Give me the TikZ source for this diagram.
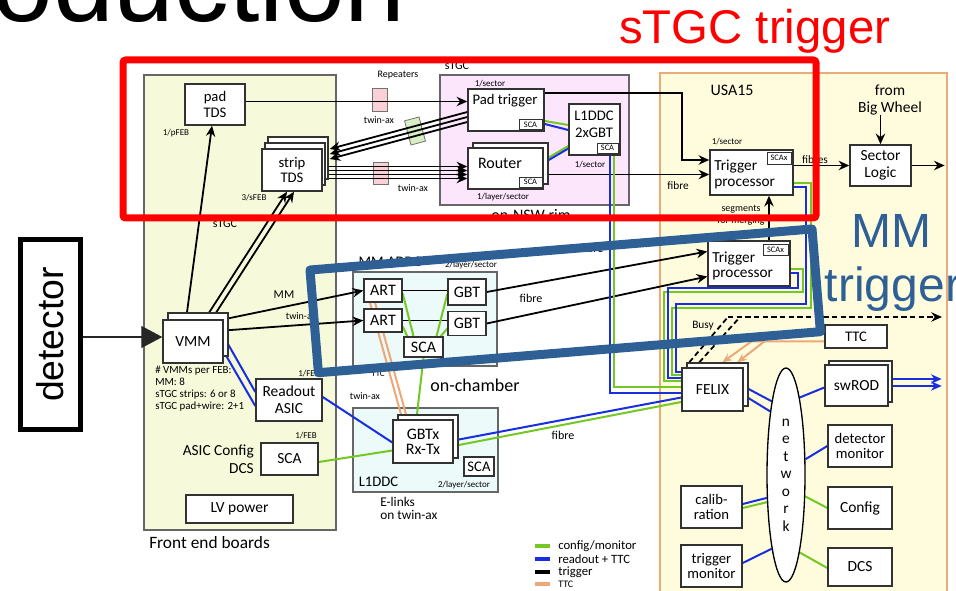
\documentclass[tikz,border=0pt]{standalone}
\usepackage{fontspec}
\setmainfont{Carlito}
\newfontfamily\arialf{Liberation Sans}
\usetikzlibrary{arrows.meta,shapes.geometric,shadows,calc}
\pgfdeclarelayer{back}
\pgfdeclarelayer{mid}
\pgfdeclarelayer{front}
\pgfsetlayers{back,mid,main,front}
\definecolor{cgreen}{RGB}{115,200,35}
\definecolor{cblue}{RGB}{25,45,225}
\definecolor{corange}{RGB}{236,168,120}
\definecolor{febfill}{RGB}{246,250,218}
\definecolor{usafill}{RGB}{255,252,222}
\definecolor{usaedge}{RGB}{236,170,120}
\definecolor{rimfill}{RGB}{252,230,252}
\definecolor{cyanfill}{RGB}{236,250,250}
\definecolor{reppink}{RGB}{248,208,214}
\definecolor{repgreen}{RGB}{214,238,196}
\definecolor{mmblue}{RGB}{46,96,150}
\definecolor{edge}{RGB}{50,50,50}
\begin{document}
\begin{tikzpicture}[x=0.75pt,y=-0.75pt,
  sz/.style 2 args={minimum width=#1*0.75pt,minimum height=#2*0.75pt},
  bgbox/.style={draw=black!60,line width=0.8pt,inner sep=0pt},
  box/.style={draw=edge,fill=white,line width=1.05pt,inner sep=0pt,align=center},
  shd/.style 2 args={copy shadow={shadow xshift=#1,shadow yshift=#2,draw=edge,line width=1.05pt,fill=white}},
  sca/.style={draw=edge,fill=white,line width=0.6pt,inner sep=0pt,font=\fontsize{6.3}{7}\selectfont},
  rep/.style={draw=black!55,line width=0.6pt,inner sep=0pt},
  lab/.style={inner sep=0pt,align=center},
  fa/.style={font=\fontsize{6.75}{8}\selectfont},
  fb/.style={font=\fontsize{7.5}{9}\selectfont},
  fc/.style={font=\fontsize{8.5}{10}\selectfont},
  fd/.style={font=\fontsize{9}{10.5}\selectfont},
  fe/.style={font=\fontsize{11}{11.8}\selectfont},
  ff/.style={font=\fontsize{11.6}{12.5}\selectfont},
  fg/.style={font=\fontsize{12}{13}\selectfont},
  trig/.style={draw=black,line width=1.35pt,-{Stealth[length=8pt,width=7pt]}},
  tl/.style={draw=black,line width=1.35pt},
  gl/.style={draw=cgreen,line width=1.5pt},
  bl/.style={draw=cblue,line width=1.5pt},
  ol/.style={draw=corange,line width=1.5pt},
]
\useasboundingbox (0,0) rectangle (956,591);

% ---------- backgrounds ----------
\begin{pgfonlayer}{back}
\node[bgbox,fill=febfill,sz={192}{455}] (feb) at (240,302.5) {};
\node[bgbox,fill=rimfill,sz={189}{130}] (rim) at (534.5,140) {};
\node[bgbox,fill=usafill,draw=usaedge,line width=1.1pt,sz={287}{524}] (usa) at (803.5,335) {};
\node[bgbox,fill=cyanfill,sz={144}{94}] (addc) at (425,319) {};
\node[bgbox,fill=cyanfill,sz={145}{84}] (l1b) at (425.5,450) {};
\node[rep,fill=reppink,sz={15}{23}] (rep1) at (379.5,100) {};
\node[rep,fill=reppink,sz={15}{22}] (rep2) at (380.5,173) {};
\node[rep,fill=repgreen,sz={15}{25},rotate=15] (rep3) at (415,131) {};
\end{pgfonlayer}

% ---------- title ----------
\begin{scope}
\clip (0,0) rectangle (956,591);
\node[anchor=base east,inner sep=0pt,font=\arialf\fontsize{82}{90}\selectfont] (title) at (406,22) {oduction};
\end{scope}

% ---------- detector ----------
\node[draw=black,line width=3.75pt,fill=white,rotate=90,sz={190}{60},inner sep=0pt,font=\arialf\fontsize{28}{30}\selectfont] (det) at (50.5,334.5) {detector};

% ---------- front end boards ----------
\node[box,fe,sz={60}{41}] (padTDS) at (215,104.5) {pad\\TDS};
\node[box,fe,sz={60}{42},shd={4.5pt}{9pt},shd={2.25pt}{4.5pt}] (stripTDS) at (292,170) {strip\\TDS};
\node[box,ff,sz={60}{43},shd={3.75pt}{5.25pt}] (VMM) at (193,341.5) {VMM};
\node[box,ff,sz={66}{42}] (readout) at (289,400) {Readout\\ASIC};
\node[box,ff,sz={57}{32}] (febSCA) at (289.5,459) {SCA};
\node[box,ff,sz={107}{28}] (LV) at (239.5,509) {LV power};

% ---------- sTGC rim ----------
\node[box,sz={76}{42}] (padtrig) at (506,110) {};
\node[lab,fe] (padtrigT) at (505,101) {Pad trigger};
\node[sca,sz={23}{10}] (padSCA) at (530.5,124.5) {SCA};
\node[box,sz={75}{41},shd={3.75pt}{3.75pt}] (router) at (505.5,168.5) {};
\node[lab,font=\fontsize{12}{13}\selectfont] (routerT) at (500,163) {Router};
\node[sca,sz={23}{10}] (routerSCA) at (530.5,182) {SCA};
\node[box,sz={51}{51}] (l1ddc) at (594.5,129.5) {};
\node[lab,font=\fontsize{11}{12.75}\selectfont] (l1ddcT) at (594,124) {L1DDC\\2xGBT};
\node[sca,sz={21}{10}] (l1ddcSCA) at (607.5,148) {SCA};

% ---------- MM ADDC / L1DDC ----------
\node[box,fg,sz={38}{23}] (ART1) at (383,290.5) {ART};
\node[box,fg,sz={38}{23}] (ART2) at (383,320.5) {ART};
\node[box,fg,sz={38}{26}] (GBT1) at (467,292) {GBT};
\node[box,fg,sz={38}{24}] (GBT2) at (467,323.5) {GBT};
\node[box,fg,sz={39}{20}] (addcSCA) at (423.5,347) {SCA};
\node[box,font=\fontsize{12}{11.5}\selectfont,sz={60}{43},shd={3.75pt}{3.75pt}] (GBTx) at (423,441.5) {GBTx\\Rx-Tx};
\node[box,fe,sz={30}{19}] (mmSCA) at (479,466.5) {SCA};

% ---------- USA15 ----------
\node[box,sz={83}{45}] (sTGCTP) at (751.5,172.5) {};
\node[lab,align=left,anchor=west,font=\fontsize{11.5}{12}\selectfont] (sTGCTPT) at (714,174) {Trigger\\processor};
\node[sca,sz={24}{12}] (sTGCTPSCA) at (779,158) {SCAx};
\node[box,sz={82}{45}] (MMTP) at (749,263.5) {};
\node[lab,align=left,anchor=west,font=\fontsize{11.5}{11.5}\selectfont] (MMTPT) at (712,266) {Trigger\\processor};
\node[sca,sz={25}{11}] (MMTPSCA) at (775.5,250) {SCAx};
\node[box,ff,sz={61}{41}] (SL) at (880.5,165.5) {Sector\\Logic};
\node[lab,ff] (bw) at (890,100) {from\\Big Wheel};
\node[box,ff,sz={61}{43},shd={3.75pt}{3.75pt}] (FELIX) at (712.5,389.5) {FELIX};
\node[box,fe,sz={62}{23}] (TTC) at (856,336.5) {TTC};
\node[box,ff,sz={63}{41},shd={3pt}{3pt}] (swROD) at (856.5,385.5) {swROD};
\node[box,fe,sz={64}{42}] (detmon) at (860,446) {detector\\monitor};
\node[box,ff,sz={64}{42}] (config) at (860,508) {Config};
\node[box,ff,sz={64}{38}] (DCS) at (860,567) {DCS};
\node[box,fe,sz={61}{42}] (calib) at (711.5,507) {calib-\\ration};
\node[box,fe,sz={61}{42}] (trigmon) at (711.5,566) {trigger\\monitor};
\node[ellipse,draw=black,fill=white,line width=1pt,inner sep=0pt,sz={38}{214},align=center,font=\fontsize{11.5}{13.1}\selectfont] (net) at (786,475) {n\\e\\t\\w\\o\\r\\k};

% ---------- labels ----------
\node[lab,fb] (lRep) at (398,75) {Repeaters};
\node[lab,fb] (lTw1) at (379,120) {twin-ax};
\node[lab,fb] (lTw2) at (413,188) {twin-ax};
\node[lab,fb] (lTw3) at (301,316) {twin-ax};
\node[lab,fb] (lTw4) at (365,396) {twin-ax};
\node[lab,fa] (lpFEB) at (176,133) {1/pFEB};
\node[lab,fa] (lsFEB) at (254,198) {3/sFEB};
\node[lab,fd] (lsTGC1) at (225,224) {sTGC};
\node[lab,fa] (lsec1) at (490,84) {1/sector};
\node[lab,fa] (llay1) at (503,197) {1/layer/sector};
\node[lab,fa] (lsec2) at (590,165) {1/sector};
\node[lab,fd] (lsTGC2) at (457,66) {sTGC};
\node[lab,font=\fontsize{12}{13}\selectfont] (lrim) at (531,215) {on-NSW rim};
\node[lab,font=\fontsize{12}{13}\selectfont] (lusa) at (732,90) {USA15};
\node[lab,fa] (lsec3) at (727,142) {1/sector};
\node[lab,fc] (lfib1) at (678,186) {fibre};
\node[lab,fc] (lfib2) at (815,160) {fibres};
\node[lab,fd] (lMM) at (284,295) {MM};
\node[lab,fe] (lADDC) at (390,262) {MM ADDC};
\node[lab,fa] (llay2) at (471,265) {2/layer/sector};
\node[lab,fd] (lfib3) at (531,298) {fibre};
\node[lab,fd] (lfib4) at (592,248) {fibre};
\node[lab,fa] (lTTC) at (378,374) {TTC};
\node[lab,font=\fontsize{13.5}{15}\selectfont] (lcham) at (475,385) {on-chamber};
\node[lab,fa,anchor=west] (lFEB1) at (298,374) {1/FEB};
\node[lab,fa] (lFEB2) at (306,436) {1/FEB};
\node[lab,align=right,anchor=east,font=\fontsize{11.5}{13.5}\selectfont] (lasic) at (254,459) {ASIC Config\\DCS};
\node[lab,align=left,anchor=north west,font=\fontsize{8.2}{9}\selectfont] (lvmm) at (155,366) {\# VMMs per FEB:\\MM: 8\\sTGC strips: 6 or 8\\sTGC pad+wire: 2+1};
\node[lab,font=\fontsize{11}{12}\selectfont] (lL1) at (378.5,482) {L1DDC};
\node[lab,fa] (llay3) at (464,485) {2/layer/sector};
\node[lab,align=left,anchor=north west,font=\fontsize{10}{9.75}\selectfont] (lelink) at (380,497) {E-links\\on twin-ax};
\node[lab,fd] (lfib5) at (563,435) {fibre};
\node[lab,fc] (lbusy) at (703,326) {Busy};
\node[lab,fb] (lseg) at (741,209) {segments};
\node[lab,fb] (lmerg) at (741,221) {for merging};
\node[lab,font=\fontsize{13}{14}\selectfont,anchor=west] (lfeb) at (149,543) {Front end boards};

% legend
\coordinate (lg1) at (535,546);
\coordinate (lg2) at (535,559);
\coordinate (lg3) at (535,572);
\coordinate (lg4) at (535,584);
\draw[cgreen,line width=3pt] (lg1) -- ++(15,0);
\draw[cblue,line width=3pt] (lg2) -- ++(15,0);
\draw[black,line width=3pt] (lg3) -- ++(15,0);
\draw[corange,line width=3pt] (lg4) -- ++(15,0);
\node[lab,font=\fontsize{9.5}{10}\selectfont,anchor=west] (lgt1) at (558,546) {config/monitor};
\node[lab,font=\fontsize{9.5}{10}\selectfont,anchor=west] (lgt2) at (558,559) {readout + TTC};
\node[lab,font=\fontsize{9.5}{10}\selectfont,anchor=west] (lgt3) at (558,572) {trigger};
\node[lab,fb,anchor=west] (lgt4) at (558,584) {TTC};

% ---------- connectors ----------
\begin{pgfonlayer}{mid}
\coordinate (vmmin) at ($(VMM.west)+(0,-4.5)$);
\draw[black!85,line width=0.8pt,-{Triangle[length=15.75pt,width=16.5pt]}] (det.south |- vmmin) -- (vmmin);
% trigger (black)
\draw[trig] ($(VMM.north)+(-6,-7)$) -- ($(padTDS.south)+(-3,0)$);
\draw[trig] ($(VMM.north)+(15,-5)$) -- ($(stripTDS.south)+(-5,0)$);
\draw[trig] ($(VMM.north)+(22,-5)$) -- ($(stripTDS.south)+(2,0)$);
\draw[trig] ($(VMM.north east)+(5,-1)$) -- (ART1.west);
\draw[trig] ($(VMM.east)+(0,-11)$) -- (ART2.west);
\draw[trig] ($(padTDS.east)+(0,-3)$) coordinate (pa) -- (pa -| padtrig.west);
\foreach \d in {0,5,10} {
  \draw[trig] ($(padtrig.west)+(0,2+\d)$) -- ($(stripTDS.east)+(7,-21+\d)$);
}
\foreach \d in {0,4,8,12} {
  \draw[trig] ($(stripTDS.east)+(6,-3.5+\d)$) -- ($(router.west)+(0,-2+\d)$);
}
\draw[trig] ($(padtrig.north east)+(0,5)$) -- ++(137,0) |- ($(sTGCTP.west)+(0,-12.5)$);
\draw[trig] ($(router.east)+(5,6)$) coordinate (ra) -- (ra -| sTGCTP.west);
\draw[trig] (sTGCTP.east |- SL.west) -- (SL.west);
\draw[trig] (SL.east) -- ++(33,0);
\draw[trig] (SL.north |- bw.south) -- (SL.north);
\draw[trig] ($(MMTP.north)+(20,0)$) coordinate (sg) -- (sg |- sTGCTP.south);
\draw[tl] (ART1.east) -- (ART1.east -| GBT1.west);
\draw[tl] (ART2.east) -- (ART2.east -| GBT2.west);
\draw[trig] (GBT1.east) -- ($(MMTP.west)+(0,-12)$);
\draw[trig] (GBT2.east) -- ($(MMTP.west)+(0,13)$);
% busy
\coordinate (busyA) at (728,317);
\coordinate (busyB) at (740,317);
\coordinate (busyE) at (942,317);
\draw[tl,dash pattern=on 4pt off 2.5pt] ($(FELIX.north west)+(8,-5)$) -- (busyA);
\draw[tl,dash pattern=on 4pt off 2.5pt] ($(FELIX.north west)+(18,-5)$) -- (busyB);
\draw[trig,dash pattern=on 4pt off 2.5pt] (busyA) -- (busyE);
% TTC (orange)
\draw[ol,-{Stealth[length=7pt,width=6pt]}] ($(TTC.west)+(0,5)$) -- ++(-73,0) -- ($(FELIX.north)+(10,-5)$);
\draw[ol,-{Stealth[length=7pt,width=6pt]}] ($(TTC.west)+(-60,5)$) -- ($(FELIX.north)+(25,-5)$);
\draw[ol] ($(ART1.south)+(-13,0)$) -- ($(GBTx.north)+(-22,-5)$);
\draw[ol] ($(ART1.south)+(-8,0)$) -- ($(GBTx.north)+(-17,-5)$);
% config/monitor (green)
\draw[gl] (addcSCA.south) -- ($(GBTx.north)+(-6,-5)$);
\draw[gl] ($(ART1.east)+(0,3)$) -- ($(addcSCA.north)+(-10,0)$);
\draw[gl] ($(ART2.east)+(0,6)$) -- ($(addcSCA.north west)+(4,0)$);
\draw[gl] ($(GBT1.west)+(0,2)$) -- ($(addcSCA.north)+(13,0)$);
\draw[gl] ($(GBT2.west)+(0,5)$) -- ($(addcSCA.north east)+(-3,0)$);
\draw[gl] ($(febSCA.east)+(0,3)$) -- ($(GBTx.west)+(0,9)$);
\draw[gl] ($(GBTx.east)+(0,4.5)$) -- ($(FELIX.west)+(0,12.5)$);
\draw[gl] ($(padtrig.east)+(0,11)$) -- ($(l1ddc.west)+(0,-4.5)$);
\draw[gl] ($(router.east)+(5,-11)$) -- ($(l1ddc.west)+(0,16.5)$);
\draw[gl] ($(l1ddc.south)+(19.5,0)$) |- ($(FELIX.west)+(0,-2.5)$);
\draw[gl] ($(sTGCTP.east)+(0,10.5)$) -| ++(17,125) -| ($(FELIX.west)+(-9,-14.5)$) -- ($(FELIX.west)+(0,-14.5)$);
\draw[gl] ($(MMTP.east)+(0,5.5)$) -| ++(12,23) -| ($(FELIX.west)+(-17,-8.5)$) -- ($(FELIX.west)+(0,-8.5)$);
\draw[gl] (net.-48) -- (config.west);
\draw[gl] (net.-80) -- ($(DCS.west)+(0,1)$);
\draw[gl] ($(calib.east)+(0,1)$) -- (net.235);
% readout (blue)
\draw[bl] ($(l1ddc.south)+(15,0)$) |- ($(FELIX.west)+(0,3.5)$);
\draw[bl] ($(sTGCTP.east)+(0,14.5)$) -| ++(12,117) -| ($(FELIX.west)+(-5,-17.5)$) -- ($(FELIX.west)+(0,-17.5)$);
\draw[bl] ($(MMTP.east)+(0,9.5)$) -| ++(7,15) -| ($(FELIX.west)+(-13,-11.5)$) -- ($(FELIX.west)+(0,-11.5)$);
\draw[bl] ($(GBTx.east)+(0,-1)$) -- ($(FELIX.west)+(0,8)$);
\draw[bl] ($(readout.east)+(0,-3)$) -- ($(GBTx.west)+(0,1)$);
\draw[bl] ($(VMM.east)+(4,2)$) -- ($(readout.west)+(0,-8)$);
\draw[bl] ($(VMM.east)+(0,10)$) -- ($(readout.west)+(0,6)$);
\draw[bl] ($(padtrig.east)+(0,14)$) -- ($(l1ddc.west)+(0,0.5)$);
\draw[bl] ($(router.east)+(5,-8.5)$) -- ($(l1ddc.west)+(0,19)$);
\draw[bl] ($(FELIX.east)+(3,-1.5)$) -- (net.101);
\draw[bl] ($(FELIX.east)+(3,7.5)$) -- (net.104);
\draw[bl] (net.80) -- ($(swROD.west)+(0,2)$);
\draw[bl] (net.39) -- (detmon.west);
\draw[bl] ($(calib.east)+(0,-3)$) -- (net.230);
\draw[bl] ($(trigmon.east)+(0,-3)$) -- (net.259);
\draw[bl,-{Stealth[length=8pt,width=7pt]}] ($(swROD.east)+(4,-6.5)$) -- ++(49,0);
\draw[bl,-{Stealth[length=8pt,width=7pt]}] ($(swROD.east)+(4,0.5)$) -- ++(49,0);
\end{pgfonlayer}

% ---------- highlight frames ----------
\begin{pgfonlayer}{front}
\draw[red,line width=5.25pt,rounded corners=2pt] (123,60) rectangle (816,218);
\draw[mmblue,line width=6.75pt,line join=round] (310,270) -- (812,229) -- (820.4,331.7) -- (318.4,372.7) -- cycle;
\node[anchor=base west,inner sep=0pt,text=red,font=\arialf\fontsize{35.5}{40}\selectfont] (sTGCtrig) at (619,44) {sTGC trigger};
\node[anchor=base,inner sep=0pt,text=mmblue,font=\arialf\fontsize{36}{40}\selectfont] (MMt1) at (891,248) {MM};
\node[anchor=base,inner sep=0pt,text=mmblue,font=\arialf\fontsize{36}{40}\selectfont] (MMt2) at (893,302) {trigger};
\end{pgfonlayer}
\end{tikzpicture}
\end{document}
